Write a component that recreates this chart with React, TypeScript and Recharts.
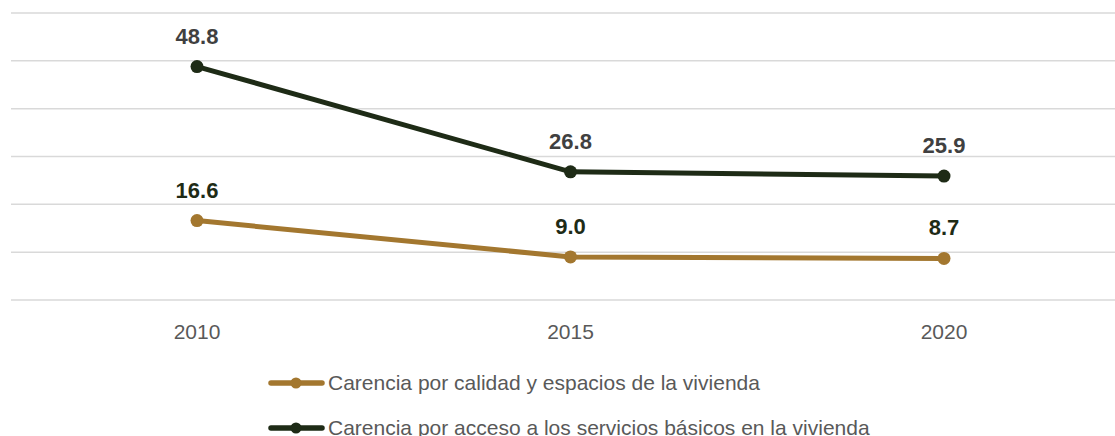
import { CartesianGrid, LabelList, Line, LineChart, XAxis, YAxis } from "recharts";

const years = ["2010", "2015", "2020"];
const calidadValues = [16.6, 9.0, 8.7];
const serviciosValues = [48.8, 26.8, 25.9];
const yTicks = [0, 10, 20, 30, 40, 50, 60];

const SERIES = [
  {
    key: "calidad",
    name: "Carencia por calidad y espacios de la vivienda",
    color: "#A3772F",
    labelColor: "#1E2B16",
  },
  {
    key: "servicios",
    name: "Carencia por acceso a los servicios básicos en la vivienda",
    color: "#1E2B16",
    labelColor: "#404040",
  },
];

const data = years.map((year, i) => ({
  year,
  calidad: calidadValues[i],
  servicios: serviciosValues[i],
}));

const FONT = '"Liberation Sans", Arial, Helvetica, sans-serif';

export default function App() {
  return (
    <div
      style={{
        position: "absolute",
        left: 0,
        top: 0,
        width: 1115,
        height: 436,
        overflow: "hidden",
        background: "#fff",
        fontFamily: FONT,
      }}
    >
      <LineChart
        width={1140}
        height={345}
        data={data}
        margin={{ top: 13, right: 10, left: 11, bottom: 0 }}
      >
        <CartesianGrid
          vertical={false}
          stroke="#D9D9D9"
          strokeWidth={1.5}
        />
        <XAxis
          dataKey="year"
          height={45}
          axisLine={false}
          tickLine={false}
          tickMargin={18}
          padding={{ left: 186, right: 186 }}
          tick={{ fill: "#595959", fontSize: 21, fontFamily: FONT }}
        />
        <YAxis hide domain={[0, 60]} ticks={yTicks} width={0} />
        {SERIES.map((s) => (
          <Line
            key={s.key}
            dataKey={s.key}
            name={s.name}
            stroke={s.color}
            strokeWidth={5}
            dot={{ r: 6.5, fill: s.color, stroke: s.color, strokeWidth: 0 }}
            activeDot={false}
            isAnimationActive={false}
          >
            <LabelList
              dataKey={s.key}
              position="top"
              offset={23}
              fill={s.labelColor}
              fontSize={22}
              fontWeight="bold"
              fontFamily={FONT}
              formatter={(v: number) => v.toFixed(1)}
            />
          </Line>
        ))}
      </LineChart>
      <div style={{ position: "absolute", left: 268, top: 369 }}>
        {SERIES.map((s) => (
          <div
            key={s.key}
            style={{
              display: "flex",
              alignItems: "center",
              height: 28,
              marginBottom: 17,
            }}
          >
            <svg width={58} height={14}>
              <line
                x1={3}
                y1={7}
                x2={54}
                y2={7}
                stroke={s.color}
                strokeWidth={5.5}
                strokeLinecap="round"
              />
              <circle cx={28} cy={7} r={5.5} fill={s.color} />
            </svg>
            <span
              style={{
                marginLeft: 2,
                fontSize: 21,
                color: "#595959",
                whiteSpace: "nowrap",
              }}
            >
              {s.name}
            </span>
          </div>
        ))}
      </div>
    </div>
  );
}
